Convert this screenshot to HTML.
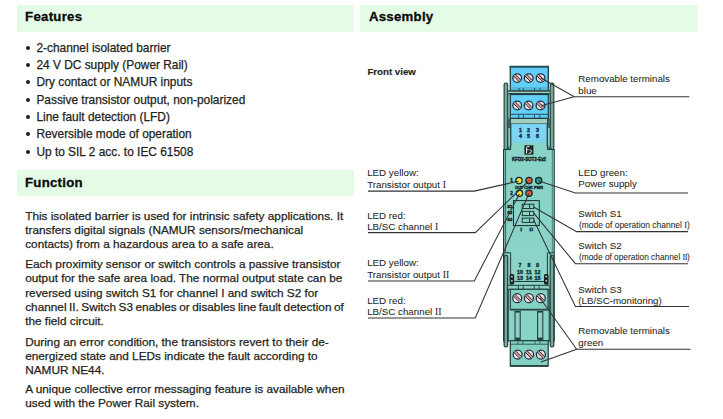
<!DOCTYPE html><html><head><meta charset="utf-8"><style>
*{margin:0;padding:0;box-sizing:border-box}
html,body{width:723px;height:419px;overflow:hidden;background:#fff}
body{position:relative;font-family:"Liberation Sans",sans-serif;color:#231f20}
.hb{position:absolute;background:#e4fce5}
.h{position:absolute;font-weight:bold;font-size:13px;color:#0a0a0a;white-space:nowrap;letter-spacing:0.28px;-webkit-text-stroke:0.3px #0a0a0a}
.t{position:absolute;white-space:nowrap;font-size:11.75px;-webkit-text-stroke:0.25px #231f20}
.bul{position:absolute;left:25px;width:5px;height:5px;border-radius:50%;background:#231f20}
.lab{position:absolute;white-space:nowrap;font-size:10.5px;color:#231f20;-webkit-text-stroke:0.05px #231f20}
.rn{font-family:"Liberation Serif",serif}
svg{position:absolute;left:0;top:0}
</style></head><body>
<div class="hb" style="left:17px;top:5.2px;width:336.2px;height:26.4px"></div>
<div class="hb" style="left:360.3px;top:5.2px;width:337.2px;height:26.4px"></div>
<div class="hb" style="left:17px;top:170px;width:337px;height:25.5px"></div>
<div class="h" style="left:25.1px;top:9.03px;line-height:16px;font-size:13.2px">Features</div>
<div class="h" style="left:368.9px;top:9.03px;line-height:16px;font-size:13.2px">Assembly</div>
<div class="h" style="left:25.0px;top:175.33px;line-height:16px;font-size:13.2px">Function</div>
<div class="t" style="left:36.4px;top:40.98px;line-height:14px;font-size:11.9px">2-channel isolated barrier</div>
<div class="bul" style="left:25.5px;top:46.10px;width:4px;height:4px"></div>
<div class="t" style="left:36.4px;top:57.83px;line-height:14px;font-size:11.9px">24 V DC supply (Power Rail)</div>
<div class="bul" style="left:25.5px;top:62.95px;width:4px;height:4px"></div>
<div class="t" style="left:36.4px;top:75.18px;line-height:14px;font-size:11.9px">Dry contact or NAMUR inputs</div>
<div class="bul" style="left:25.5px;top:80.30px;width:4px;height:4px"></div>
<div class="t" style="left:36.4px;top:92.53px;line-height:14px;font-size:11.9px">Passive transistor output, non-polarized</div>
<div class="bul" style="left:25.5px;top:97.65px;width:4px;height:4px"></div>
<div class="t" style="left:36.4px;top:109.88px;line-height:14px;font-size:11.9px">Line fault detection (LFD)</div>
<div class="bul" style="left:25.5px;top:115.00px;width:4px;height:4px"></div>
<div class="t" style="left:36.4px;top:127.23px;line-height:14px;font-size:11.9px">Reversible mode of operation</div>
<div class="bul" style="left:25.5px;top:132.35px;width:4px;height:4px"></div>
<div class="t" style="left:36.4px;top:144.58px;line-height:14px;font-size:11.9px">Up to SIL 2 acc. to IEC 61508</div>
<div class="bul" style="left:25.5px;top:149.70px;width:4px;height:4px"></div>
<div class="t" style="left:25.2px;top:208.71px;line-height:14px;font-size:11.8px;">This isolated barrier is used for intrinsic safety applications. It</div>
<div class="t" style="left:25.2px;top:223.01px;line-height:14px;font-size:11.8px;">transfers digital signals (NAMUR sensors/mechanical</div>
<div class="t" style="left:25.2px;top:237.31px;line-height:14px;font-size:11.8px;">contacts) from a hazardous area to a safe area.</div>
<div class="t" style="left:25.2px;top:256.91px;line-height:14px;font-size:11.8px;">Each proximity sensor or switch controls a passive transistor</div>
<div class="t" style="left:25.2px;top:271.21px;line-height:14px;font-size:11.8px;">output for the safe area load. The normal output state can be</div>
<div class="t" style="left:25.2px;top:285.51px;line-height:14px;font-size:11.8px;">reversed using switch S1 for channel I and switch S2 for</div>
<div class="t" style="left:25.2px;top:299.81px;line-height:14px;font-size:11.8px;word-spacing:-0.8px;">channel II. Switch S3 enables or disables line fault detection of</div>
<div class="t" style="left:25.2px;top:314.11px;line-height:14px;font-size:11.8px;">the field circuit.</div>
<div class="t" style="left:25.2px;top:334.51px;line-height:14px;font-size:11.8px;">During an error condition, the transistors revert to their de-</div>
<div class="t" style="left:25.2px;top:348.81px;line-height:14px;font-size:11.8px;">energized state and LEDs indicate the fault according to</div>
<div class="t" style="left:25.2px;top:363.11px;line-height:14px;font-size:11.8px;">NAMUR NE44.</div>
<div class="t" style="left:25.2px;top:382.41px;line-height:14px;font-size:11.8px;">A unique collective error messaging feature is available when</div>
<div class="t" style="left:25.2px;top:396.31px;line-height:14px;font-size:11.8px;">used with the Power Rail system.</div>
<div class="h" style="left:367.4px;top:65.84px;line-height:12px;font-size:9.7px;letter-spacing:0;-webkit-text-stroke:0.15px #231f20;color:#231f20">Front view</div>
<div class="lab" style="left:367.2px;top:166.62px;line-height:12px;font-size:9.75px;">LED yellow:</div>
<div class="lab" style="left:367.2px;top:179.02px;line-height:12px;font-size:9.75px;">Transistor output <span class=rn>I</span></div>
<div class="lab" style="left:367.2px;top:209.62px;line-height:12px;font-size:9.75px;">LED red:</div>
<div class="lab" style="left:367.2px;top:220.92px;line-height:12px;font-size:9.75px;">LB/SC channel <span class=rn>I</span></div>
<div class="lab" style="left:367.2px;top:256.52px;line-height:12px;font-size:9.75px;">LED yellow:</div>
<div class="lab" style="left:367.2px;top:268.82px;line-height:12px;font-size:9.75px;">Transistor output <span class=rn>II</span></div>
<div class="lab" style="left:367.2px;top:294.82px;line-height:12px;font-size:9.75px;">LED red:</div>
<div class="lab" style="left:367.2px;top:305.82px;line-height:12px;font-size:9.75px;">LB/SC channel <span class=rn>II</span></div>
<div class="lab" style="left:578.3px;top:73.42px;line-height:12px;font-size:9.75px;">Removable terminals</div>
<div class="lab" style="left:578.3px;top:85.32px;line-height:12px;font-size:9.75px;">blue</div>
<div class="lab" style="left:578.3px;top:167.12px;line-height:12px;font-size:9.75px;">LED green:</div>
<div class="lab" style="left:578.3px;top:177.92px;line-height:12px;font-size:9.75px;">Power supply</div>
<div class="lab" style="left:578.3px;top:207.62px;line-height:12px;font-size:9.75px;">Switch S1</div>
<div class="lab" style="left:578.3px;top:239.62px;line-height:12px;font-size:9.75px;">Switch S2</div>
<div class="lab" style="left:578.3px;top:283.92px;line-height:12px;font-size:9.75px;">Switch S3</div>
<div class="lab" style="left:578.3px;top:294.62px;line-height:12px;font-size:9.75px;">(LB/SC-monitoring)</div>
<div class="lab" style="left:578.3px;top:324.62px;line-height:12px;font-size:9.75px;">Removable terminals</div>
<div class="lab" style="left:578.3px;top:336.62px;line-height:12px;font-size:9.75px;">green</div>
<div class="lab" style="left:578.6px;top:219.21px;line-height:12px;font-size:9.2px;transform:scaleX(0.92);transform-origin:0 0">(mode of operation channel <span class=rn>I</span>)</div>
<div class="lab" style="left:578.6px;top:251.21px;line-height:12px;font-size:9.2px;transform:scaleX(0.905);transform-origin:0 0">(mode of operation channel <span class=rn style='letter-spacing:-0.6px'>II</span>)</div>
<svg width="723" height="419" viewBox="0 0 723 419">
<rect x="504.1" y="83" width="3.6" height="67" rx="1.6" fill="#6e998c" stroke="#1c3f3d" stroke-width="1.1"/>
<line x1="505.90000000000003" y1="85" x2="505.90000000000003" y2="149" stroke="#9dbdb2" stroke-width="0.7"/>
<rect x="550.2" y="83" width="3.6" height="67" rx="1.6" fill="#6e998c" stroke="#1c3f3d" stroke-width="1.1"/>
<line x1="552.0" y1="85" x2="552.0" y2="149" stroke="#9dbdb2" stroke-width="0.7"/>
<path d="M503.6 149.5 L510.5 149.5 L510.5 118 L547.5 118 L547.5 149.5 L554.2 149.5 L554.2 341 L503.6 341 Z" fill="#8ad3c7" stroke="#1c3f3d" stroke-width="1.2"/>
<rect x="504.2" y="150.2" width="1.4" height="102.5" fill="#76afa2"/>
<rect x="552.4" y="150.2" width="1.2" height="102.5" fill="#76afa2"/>
<line x1="505.6" y1="150" x2="505.6" y2="252.8" stroke="#2a4f4a" stroke-width="0.8"/>
<line x1="552.3" y1="150" x2="552.3" y2="252.8" stroke="#3f6a63" stroke-width="0.7"/>
<rect x="507.9" y="90.5" width="2.6" height="58.5" fill="#8ad3c7" stroke="#1c3f3d" stroke-width="0.8"/>
<rect x="547.5" y="90.5" width="2.6" height="58.5" fill="#8ad3c7" stroke="#1c3f3d" stroke-width="0.8"/>
<rect x="508.1" y="118.5" width="2.4" height="9.5" fill="#41625b"/>
<rect x="547.6" y="118.5" width="2.4" height="9.5" fill="#41625b"/>
<defs><linearGradient id="pg" x1="0" y1="0" x2="0" y2="1"><stop offset="0" stop-color="#80d6fa"/><stop offset="0.75" stop-color="#7dd4f2"/><stop offset="1" stop-color="#87d1c5"/></linearGradient></defs>
<rect x="510.5" y="118.3" width="37" height="5.6" fill="#a3cfc2" stroke="#1c3f3d" stroke-width="0.8"/>
<rect x="510.9" y="124.2" width="36.2" height="21" fill="url(#pg)"/>
<path d="M510.9 124 L510.9 146 L505 150" fill="none" stroke="#1c3f3d" stroke-width="0.9"/>
<path d="M547.1 124 L547.1 146 L553 150" fill="none" stroke="#1c3f3d" stroke-width="0.9"/>
<rect x="510.3" y="66.4" width="38" height="24.1" fill="#62cff8" stroke="#1c3f3d" stroke-width="1.3"/>
<line x1="509.65" y1="66.9" x2="548.95" y2="66.9" stroke="#22505a" stroke-width="1.8"/>
<line x1="519" y1="88" x2="519" y2="90.7" stroke="#1c3f3d" stroke-width="0.9"/>
<line x1="523.3" y1="88" x2="523.3" y2="90.7" stroke="#1c3f3d" stroke-width="0.9"/>
<line x1="534.6" y1="88" x2="534.6" y2="90.7" stroke="#1c3f3d" stroke-width="0.9"/>
<line x1="540" y1="88" x2="540" y2="90.7" stroke="#1c3f3d" stroke-width="0.9"/>
<line x1="510.3" y1="88" x2="548.3" y2="88" stroke="#3a7f9a" stroke-width="0.6"/>
<rect x="507.9" y="90.7" width="42.2" height="3.6" fill="#a9cdc4"/>
<line x1="507.9" y1="91.2" x2="550.1" y2="91.2" stroke="#1c3f3d" stroke-width="1"/>
<line x1="507.9" y1="93.6" x2="550.1" y2="93.6" stroke="#2b4b47" stroke-width="1.4"/>
<circle cx="517.2" cy="78.1" r="4.35" fill="#e9dfe0" stroke="#1d3447" stroke-width="1.25"/>
<line x1="514.2420000000001" y1="75.142" x2="520.158" y2="81.05799999999999" stroke="#d69490" stroke-width="1.5"/>
<line x1="515.0551650000001" y1="74.328835" x2="520.971165" y2="80.244835" stroke="#2a1a28" stroke-width="0.95"/>
<line x1="513.428835" y1="75.955165" x2="519.344835" y2="81.87116499999999" stroke="#2a1a28" stroke-width="0.95"/>
<circle cx="528.7" cy="78.1" r="4.35" fill="#e9dfe0" stroke="#1d3447" stroke-width="1.25"/>
<line x1="525.7420000000001" y1="75.142" x2="531.658" y2="81.05799999999999" stroke="#d69490" stroke-width="1.5"/>
<line x1="526.5551650000001" y1="74.328835" x2="532.471165" y2="80.244835" stroke="#2a1a28" stroke-width="0.95"/>
<line x1="524.928835" y1="75.955165" x2="530.844835" y2="81.87116499999999" stroke="#2a1a28" stroke-width="0.95"/>
<circle cx="540.6" cy="78.1" r="4.35" fill="#e9dfe0" stroke="#1d3447" stroke-width="1.25"/>
<line x1="537.642" y1="75.142" x2="543.558" y2="81.05799999999999" stroke="#d69490" stroke-width="1.5"/>
<line x1="538.4551650000001" y1="74.328835" x2="544.371165" y2="80.244835" stroke="#2a1a28" stroke-width="0.95"/>
<line x1="536.828835" y1="75.955165" x2="542.744835" y2="81.87116499999999" stroke="#2a1a28" stroke-width="0.95"/>
<rect x="510.3" y="94.5" width="38" height="23.8" fill="#62cff8" stroke="#1c3f3d" stroke-width="1.2"/>
<line x1="510.3" y1="114.3" x2="548.3" y2="114.3" stroke="#1c3f3d" stroke-width="0.9"/>
<line x1="518.8" y1="114.3" x2="518.8" y2="118.3" stroke="#1c3f3d" stroke-width="0.8"/>
<line x1="523.4" y1="114.3" x2="523.4" y2="118.3" stroke="#1c3f3d" stroke-width="0.8"/>
<line x1="534.5" y1="114.3" x2="534.5" y2="118.3" stroke="#1c3f3d" stroke-width="0.8"/>
<line x1="539.8" y1="114.3" x2="539.8" y2="118.3" stroke="#1c3f3d" stroke-width="0.8"/>
<circle cx="517.2" cy="105.5" r="4.35" fill="#e9dfe0" stroke="#1d3447" stroke-width="1.25"/>
<line x1="514.2420000000001" y1="102.542" x2="520.158" y2="108.458" stroke="#d69490" stroke-width="1.5"/>
<line x1="515.0551650000001" y1="101.728835" x2="520.971165" y2="107.644835" stroke="#2a1a28" stroke-width="0.95"/>
<line x1="513.428835" y1="103.355165" x2="519.344835" y2="109.271165" stroke="#2a1a28" stroke-width="0.95"/>
<circle cx="528.6" cy="105.5" r="4.35" fill="#e9dfe0" stroke="#1d3447" stroke-width="1.25"/>
<line x1="525.642" y1="102.542" x2="531.558" y2="108.458" stroke="#d69490" stroke-width="1.5"/>
<line x1="526.4551650000001" y1="101.728835" x2="532.371165" y2="107.644835" stroke="#2a1a28" stroke-width="0.95"/>
<line x1="524.828835" y1="103.355165" x2="530.744835" y2="109.271165" stroke="#2a1a28" stroke-width="0.95"/>
<circle cx="540.5" cy="105.5" r="4.35" fill="#e9dfe0" stroke="#1d3447" stroke-width="1.25"/>
<line x1="537.542" y1="102.542" x2="543.458" y2="108.458" stroke="#d69490" stroke-width="1.5"/>
<line x1="538.355165" y1="101.728835" x2="544.271165" y2="107.644835" stroke="#2a1a28" stroke-width="0.95"/>
<line x1="536.728835" y1="103.355165" x2="542.644835" y2="109.271165" stroke="#2a1a28" stroke-width="0.95"/>
<text x="520.5" y="132.2" font-family="Liberation Sans" font-weight="bold" font-size="5.3" fill="#172c4c" text-anchor="middle" stroke="#172c4c" stroke-width="0.4">1</text>
<text x="528.6" y="132.2" font-family="Liberation Sans" font-weight="bold" font-size="5.3" fill="#172c4c" text-anchor="middle" stroke="#172c4c" stroke-width="0.4">2</text>
<text x="537.6" y="132.2" font-family="Liberation Sans" font-weight="bold" font-size="5.3" fill="#172c4c" text-anchor="middle" stroke="#172c4c" stroke-width="0.4">3</text>
<text x="520.5" y="138.4" font-family="Liberation Sans" font-weight="bold" font-size="5.3" fill="#172c4c" text-anchor="middle" stroke="#172c4c" stroke-width="0.4">4</text>
<text x="528.6" y="138.4" font-family="Liberation Sans" font-weight="bold" font-size="5.3" fill="#172c4c" text-anchor="middle" stroke="#172c4c" stroke-width="0.4">5</text>
<text x="537.6" y="138.4" font-family="Liberation Sans" font-weight="bold" font-size="5.3" fill="#172c4c" text-anchor="middle" stroke="#172c4c" stroke-width="0.4">6</text>
<rect x="524.4" y="145.3" width="9" height="9.4" fill="#1e2624"/>
<path d="M526.6 153.6 L526.6 147.6 Q526.6 146.6 527.8 146.6 L529.4 146.6 M526.6 149.8 L528.6 149.8 M528.6 153.4 Q531.6 153.4 531.4 151.2 Q531.2 149.6 529.6 149.8" fill="none" stroke="#e6f0ec" stroke-width="1"/>
<text x="529.1" y="161.3" font-family="Liberation Sans" font-weight="bold" font-size="4.8" fill="#15302c" text-anchor="middle" textLength="34" lengthAdjust="spacingAndGlyphs" stroke="#15302c" stroke-width="0.45">KFD2-SOT2-Ex2</text>
<circle cx="519" cy="180.6" r="3.15" fill="#f5e04a" stroke="#142a27" stroke-width="1.25"/>
<circle cx="529" cy="180.6" r="3.15" fill="#e8533f" stroke="#142a27" stroke-width="1.25"/>
<circle cx="538.7" cy="180.6" r="3.15" fill="#1f9d8c" stroke="#142a27" stroke-width="1.25"/>
<circle cx="519.4" cy="193.3" r="3.15" fill="#f5e04a" stroke="#142a27" stroke-width="1.25"/>
<circle cx="529" cy="193.3" r="3.15" fill="#e8533f" stroke="#142a27" stroke-width="1.25"/>
<text x="511.6" y="182" font-family="Liberation Sans" font-weight="bold" font-size="4.6" fill="#10201e" stroke="#10201e" stroke-width="0.35" text-anchor="middle">1</text>
<text x="511.6" y="195" font-family="Liberation Sans" font-weight="bold" font-size="4.6" fill="#10201e" stroke="#10201e" stroke-width="0.35" text-anchor="middle">2</text>
<text x="529" y="189" font-family="Liberation Sans" font-weight="bold" font-size="4.2" fill="#0f302b" text-anchor="middle" textLength="28" lengthAdjust="spacingAndGlyphs" stroke="#0f302b" stroke-width="0.4">OUT CHK PWR</text>
<rect x="513.5" y="200.6" width="25.8" height="25" fill="none" stroke="#1b3330" stroke-width="1.05"/>
<rect x="522.2" y="204.2" width="11.6" height="4.3" fill="#8ad3c7" stroke="#1b3330" stroke-width="0.95"/>
<line x1="529.6" y1="204.2" x2="529.6" y2="208.5" stroke="#1b3330" stroke-width="0.95"/>
<rect x="522.2" y="211.3" width="11.6" height="4.3" fill="#8ad3c7" stroke="#1b3330" stroke-width="0.95"/>
<line x1="529.6" y1="211.3" x2="529.6" y2="215.60000000000002" stroke="#1b3330" stroke-width="0.95"/>
<rect x="522.2" y="218.1" width="11.6" height="4.3" fill="#8ad3c7" stroke="#1b3330" stroke-width="0.95"/>
<line x1="529.6" y1="218.1" x2="529.6" y2="222.4" stroke="#1b3330" stroke-width="0.95"/>
<text x="509.8" y="208" font-family="Liberation Sans" font-weight="bold" font-size="4.2" fill="#10201e" stroke="#10201e" stroke-width="0.35" text-anchor="middle">S1</text>
<text x="509.8" y="214.2" font-family="Liberation Sans" font-weight="bold" font-size="4.2" fill="#10201e" stroke="#10201e" stroke-width="0.35" text-anchor="middle">S2</text>
<text x="509.8" y="221" font-family="Liberation Sans" font-weight="bold" font-size="4.2" fill="#10201e" stroke="#10201e" stroke-width="0.35" text-anchor="middle">S3</text>
<text x="521.1" y="230.5" font-family="Liberation Serif" font-weight="bold" font-size="4.8" fill="#10201e" stroke="#10201e" stroke-width="0.3" text-anchor="middle">I</text>
<text x="531.2" y="230.5" font-family="Liberation Serif" font-weight="bold" font-size="4.8" fill="#10201e" stroke="#10201e" stroke-width="0.3" text-anchor="middle">II</text>
<rect x="510.6" y="253" width="37" height="34" fill="#8dd3c7"/>
<path d="M503.8 252.8 L510.6 252.8 L510.6 288 M554 252.8 L547.4 252.8 L547.4 288" fill="none" stroke="#1c3f3d" stroke-width="1"/>
<rect x="504.1" y="255.3" width="3.6" height="91.69999999999999" rx="1.6" fill="#6e998c" stroke="#1c3f3d" stroke-width="1.1"/>
<line x1="505.90000000000003" y1="257.3" x2="505.90000000000003" y2="346" stroke="#9dbdb2" stroke-width="0.7"/>
<rect x="550.2" y="255.3" width="3.6" height="91.69999999999999" rx="1.6" fill="#6e998c" stroke="#1c3f3d" stroke-width="1.1"/>
<line x1="552.0" y1="257.3" x2="552.0" y2="346" stroke="#9dbdb2" stroke-width="0.7"/>
<text x="520" y="266.8" font-family="Liberation Sans" font-weight="bold" font-size="5.3" fill="#18393a" text-anchor="middle" stroke="#18393a" stroke-width="0.45">7</text>
<text x="528.9" y="266.8" font-family="Liberation Sans" font-weight="bold" font-size="5.3" fill="#18393a" text-anchor="middle" stroke="#18393a" stroke-width="0.45">8</text>
<text x="537.5" y="266.8" font-family="Liberation Sans" font-weight="bold" font-size="5.3" fill="#18393a" text-anchor="middle" stroke="#18393a" stroke-width="0.45">9</text>
<text x="520" y="273.6" font-family="Liberation Sans" font-weight="bold" font-size="5.3" fill="#18393a" text-anchor="middle" stroke="#18393a" stroke-width="0.45">10</text>
<text x="528.9" y="273.6" font-family="Liberation Sans" font-weight="bold" font-size="5.3" fill="#18393a" text-anchor="middle" stroke="#18393a" stroke-width="0.45">11</text>
<text x="537.5" y="273.6" font-family="Liberation Sans" font-weight="bold" font-size="5.3" fill="#18393a" text-anchor="middle" stroke="#18393a" stroke-width="0.45">12</text>
<text x="520" y="279.6" font-family="Liberation Sans" font-weight="bold" font-size="5.3" fill="#18393a" text-anchor="middle" stroke="#18393a" stroke-width="0.45">13</text>
<text x="528.9" y="279.6" font-family="Liberation Sans" font-weight="bold" font-size="5.3" fill="#18393a" text-anchor="middle" stroke="#18393a" stroke-width="0.45">14</text>
<text x="537.5" y="279.6" font-family="Liberation Sans" font-weight="bold" font-size="5.3" fill="#18393a" text-anchor="middle" stroke="#18393a" stroke-width="0.45">15</text>
<rect x="509.6" y="274" width="4.6" height="10.6" rx="1.6" fill="#1a2422"/>
<circle cx="511.90000000000003" cy="276.6" r="0.9" fill="#c8dcd4"/>
<circle cx="511.90000000000003" cy="280.8" r="0.9" fill="#c8dcd4"/>
<rect x="544.0" y="274" width="4.6" height="10.6" rx="1.6" fill="#1a2422"/>
<circle cx="546.3" cy="276.6" r="0.9" fill="#c8dcd4"/>
<circle cx="546.3" cy="280.8" r="0.9" fill="#c8dcd4"/>
<line x1="514.2" y1="281.5" x2="544" y2="281.5" stroke="#1c3f3d" stroke-width="1"/>
<path d="M508.2 285 L508.2 341 M549.2 285 L549.2 341" stroke="#1c3f3d" stroke-width="1"/>
<rect x="508.2" y="285.3" width="41" height="4" fill="#8fd0c4"/>
<line x1="508.2" y1="285.3" x2="549.2" y2="285.3" stroke="#1c3f3d" stroke-width="1"/>
<line x1="508.2" y1="289.3" x2="549.2" y2="289.3" stroke="#1c3f3d" stroke-width="1"/>
<line x1="518.4" y1="285.3" x2="518.4" y2="289.3" stroke="#1c3f3d" stroke-width="0.9"/>
<line x1="523.2" y1="285.3" x2="523.2" y2="289.3" stroke="#1c3f3d" stroke-width="0.9"/>
<line x1="534.2" y1="285.3" x2="534.2" y2="289.3" stroke="#1c3f3d" stroke-width="0.9"/>
<line x1="539" y1="285.3" x2="539" y2="289.3" stroke="#1c3f3d" stroke-width="0.9"/>
<rect x="510.3" y="289.3" width="37.7" height="20.3" fill="#84d1c2" stroke="#1c3f3d" stroke-width="1.1"/>
<line x1="510.3" y1="309.6" x2="548" y2="309.6" stroke="#2b4744" stroke-width="1.6"/>
<circle cx="517.2" cy="298.2" r="4.5" fill="#e9dfe0" stroke="#1d3447" stroke-width="1.25"/>
<line x1="514.1400000000001" y1="295.14" x2="520.26" y2="301.26" stroke="#d69490" stroke-width="1.5"/>
<line x1="514.9531650000001" y1="294.32683499999996" x2="521.073165" y2="300.44683499999996" stroke="#2a1a28" stroke-width="0.95"/>
<line x1="513.3268350000001" y1="295.953165" x2="519.446835" y2="302.073165" stroke="#2a1a28" stroke-width="0.95"/>
<circle cx="528.9" cy="298.2" r="4.5" fill="#e9dfe0" stroke="#1d3447" stroke-width="1.25"/>
<line x1="525.84" y1="295.14" x2="531.9599999999999" y2="301.26" stroke="#d69490" stroke-width="1.5"/>
<line x1="526.6531650000001" y1="294.32683499999996" x2="532.773165" y2="300.44683499999996" stroke="#2a1a28" stroke-width="0.95"/>
<line x1="525.026835" y1="295.953165" x2="531.1468349999999" y2="302.073165" stroke="#2a1a28" stroke-width="0.95"/>
<circle cx="540.7" cy="298.2" r="4.5" fill="#e9dfe0" stroke="#1d3447" stroke-width="1.25"/>
<line x1="537.6400000000001" y1="295.14" x2="543.76" y2="301.26" stroke="#d69490" stroke-width="1.5"/>
<line x1="538.4531650000001" y1="294.32683499999996" x2="544.573165" y2="300.44683499999996" stroke="#2a1a28" stroke-width="0.95"/>
<line x1="536.8268350000001" y1="295.953165" x2="542.946835" y2="302.073165" stroke="#2a1a28" stroke-width="0.95"/>
<rect x="515" y="311.5" width="5.2" height="28.3" fill="#8fd0c4" stroke="#1c3f3d" stroke-width="1.05"/>
<rect x="515.3" y="337.6" width="4.6" height="2.4" fill="#24403c"/>
<rect x="515.3" y="311.2" width="4.6" height="1.4" fill="#24403c"/>
<rect x="537.6" y="311.5" width="5.2" height="28.3" fill="#8fd0c4" stroke="#1c3f3d" stroke-width="1.05"/>
<rect x="537.9" y="337.6" width="4.6" height="2.4" fill="#24403c"/>
<rect x="537.9" y="311.2" width="4.6" height="1.4" fill="#24403c"/>
<rect x="510.3" y="340.7" width="37.9" height="25.4" fill="#84d1c2" stroke="#1c3f3d" stroke-width="1.2"/>
<line x1="510.3" y1="365.9" x2="548.2" y2="365.9" stroke="#2b4744" stroke-width="1.9"/>
<line x1="510.3" y1="344.2" x2="548.2" y2="344.2" stroke="#1c3f3d" stroke-width="0.8"/>
<line x1="518" y1="340.6" x2="518" y2="344.2" stroke="#1c3f3d" stroke-width="0.7"/>
<line x1="523" y1="340.6" x2="523" y2="344.2" stroke="#1c3f3d" stroke-width="0.7"/>
<line x1="535" y1="340.6" x2="535" y2="344.2" stroke="#1c3f3d" stroke-width="0.7"/>
<line x1="540" y1="340.6" x2="540" y2="344.2" stroke="#1c3f3d" stroke-width="0.7"/>
<circle cx="517.6" cy="354.5" r="4.5" fill="#e9dfe0" stroke="#1d3447" stroke-width="1.25"/>
<line x1="514.5400000000001" y1="351.44" x2="520.66" y2="357.56" stroke="#d69490" stroke-width="1.5"/>
<line x1="515.3531650000001" y1="350.62683499999997" x2="521.473165" y2="356.746835" stroke="#2a1a28" stroke-width="0.95"/>
<line x1="513.726835" y1="352.253165" x2="519.8468349999999" y2="358.37316500000003" stroke="#2a1a28" stroke-width="0.95"/>
<circle cx="529.1" cy="354.5" r="4.5" fill="#e9dfe0" stroke="#1d3447" stroke-width="1.25"/>
<line x1="526.0400000000001" y1="351.44" x2="532.16" y2="357.56" stroke="#d69490" stroke-width="1.5"/>
<line x1="526.8531650000001" y1="350.62683499999997" x2="532.973165" y2="356.746835" stroke="#2a1a28" stroke-width="0.95"/>
<line x1="525.226835" y1="352.253165" x2="531.3468349999999" y2="358.37316500000003" stroke="#2a1a28" stroke-width="0.95"/>
<circle cx="540.9" cy="354.5" r="4.5" fill="#e9dfe0" stroke="#1d3447" stroke-width="1.25"/>
<line x1="537.84" y1="351.44" x2="543.9599999999999" y2="357.56" stroke="#d69490" stroke-width="1.5"/>
<line x1="538.6531650000001" y1="350.62683499999997" x2="544.773165" y2="356.746835" stroke="#2a1a28" stroke-width="0.95"/>
<line x1="537.026835" y1="352.253165" x2="543.1468349999999" y2="358.37316500000003" stroke="#2a1a28" stroke-width="0.95"/>
<path d="M368 191.1 L474.3 191.1 L518.5 181.2" fill="none" stroke="#333333" stroke-width="1.05"/>
<path d="M368 232.6 L475.3 232.6 L528.3 181.5" fill="none" stroke="#333333" stroke-width="1.05"/>
<path d="M368 280.9 L474.3 280.9 L519.4 194" fill="none" stroke="#333333" stroke-width="1.05"/>
<path d="M368 317.9 L475.3 317.9 L528.8 193.8" fill="none" stroke="#333333" stroke-width="1.05"/>
<path d="M689.3 96.7 L574.2 96.7 L541 78" fill="none" stroke="#333333" stroke-width="1.05"/>
<path d="M574.2 96.7 L541 105.8" fill="none" stroke="#333333" stroke-width="1.05"/>
<path d="M688 192.9 L575.4 192.9 L539 181" fill="none" stroke="#333333" stroke-width="1.05"/>
<path d="M688 231.6 L576.6 231.6 L533.6 207" fill="none" stroke="#333333" stroke-width="1.05"/>
<path d="M688 263.7 L575.4 263.7 L533.6 212.9" fill="none" stroke="#333333" stroke-width="1.05"/>
<path d="M689 306.4 L575.4 306.4 L533.6 219.8" fill="none" stroke="#333333" stroke-width="1.05"/>
<path d="M690.6 349.2 L576.7 349.2 L540 298" fill="none" stroke="#333333" stroke-width="1.05"/>
<path d="M576.7 349.2 L541 362" fill="none" stroke="#333333" stroke-width="1.05"/>
</svg>
</body></html>
